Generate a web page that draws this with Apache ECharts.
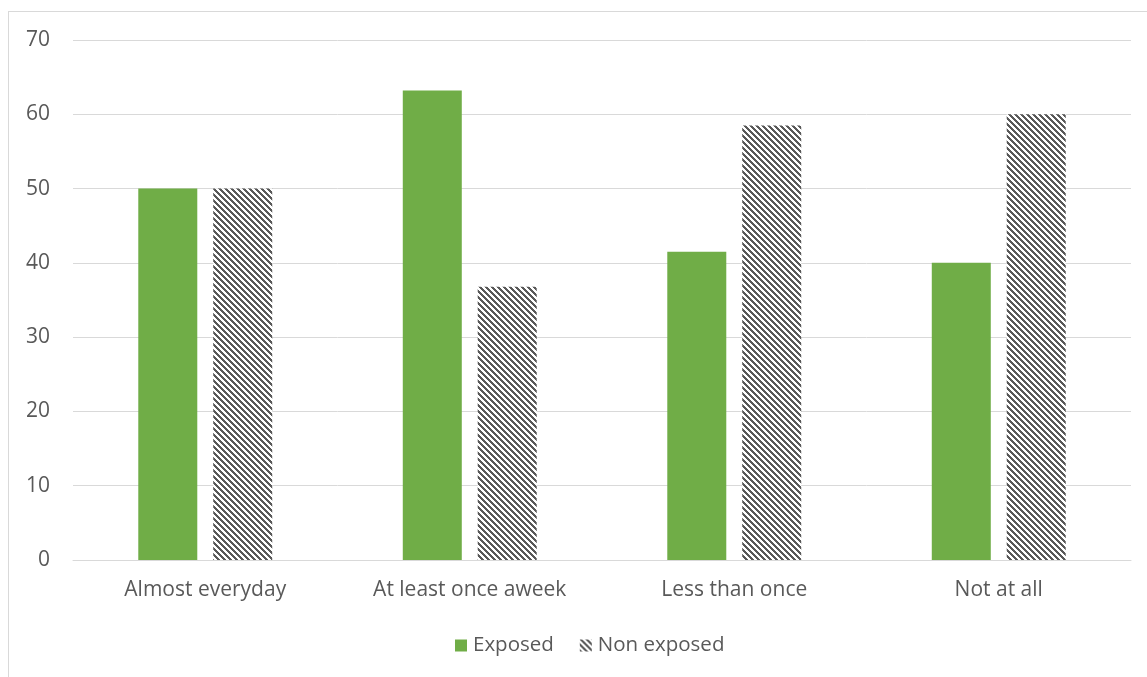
<!DOCTYPE html>
<html>
<head>
<meta charset="utf-8">
<script src="https://cdn.jsdelivr.net/npm/echarts@6/dist/echarts.min.js"></script>
<style>
  html, body { margin: 0; padding: 0; background: #ffffff; }
  #frame { position: absolute; left: 8px; top: 11px; width: 1160px; height: 700px; border: 1px solid #d9d9d9; box-sizing: border-box; }
  #chart { position: absolute; left: 0; top: 0; width: 1147px; height: 677px; }
</style>
</head>
<body>
<div id="frame"></div>
<div id="chart"></div>
<script>
const categories = ['Almost everyday', 'At least once aweek', 'Less than once', 'Not at all'];
const exposed = [50, 63.2, 41.5, 40];
const nonExposed = [50, 36.8, 58.5, 60];
const yTicks = [0, 10, 20, 30, 40, 50, 60, 70];

// diagonal hatch tile for the "Non exposed" series
function hatchTile() {
  const n = 6;
  const c = document.createElement('canvas');
  c.width = n; c.height = n;
  const ctx = c.getContext('2d');
  ctx.fillStyle = '#ffffff';
  ctx.fillRect(0, 0, n, n);
  ctx.fillStyle = '#595959';
  for (let y = 0; y < n; y++) {
    for (let x = 0; x < n; x++) {
      const d = ((x - y) % n + n) % n;
      if (d < 3) ctx.fillRect(x, y, 1, 1);
    }
  }
  return c;
}
const hatch = { image: hatchTile(), repeat: 'repeat' };

const chart = echarts.init(document.getElementById('chart'), null, { renderer: 'canvas' });
const font = '"Open Sans", "Liberation Sans", sans-serif';
chart.setOption({
  animation: false,
  textStyle: { fontFamily: font },
  grid: { left: 73, right: 16, top: 40, bottom: 117, containLabel: false },
  legend: {
    top: 630,
    left: 450,
    itemWidth: 12,
    itemHeight: 12,
    itemGap: 26,
    textStyle: { color: '#595959', fontSize: 20.5, fontFamily: font, padding: [0, 0, 0, 1] },
    data: [
      { name: 'Exposed', icon: 'rect' },
      { name: 'Non exposed', icon: 'rect' }
    ]
  },
  xAxis: {
    type: 'category',
    data: categories,
    axisLine: { lineStyle: { color: '#d9d9d9' } },
    axisTick: { show: false },
    axisLabel: { color: '#595959', fontSize: 21, margin: 20, fontFamily: font }
  },
  yAxis: {
    type: 'value',
    min: yTicks[0],
    max: yTicks[yTicks.length - 1],
    interval: 10,
    axisLine: { show: false },
    axisTick: { show: false },
    axisLabel: { color: '#595959', fontSize: 21, margin: 23, fontFamily: font },
    splitLine: { lineStyle: { color: '#d9d9d9' } }
  },
  series: [
    {
      name: 'Exposed',
      type: 'bar',
      data: exposed,
      barWidth: 59,
      barGap: '27%',
      itemStyle: { color: '#70ad47' }
    },
    {
      name: 'Non exposed',
      type: 'bar',
      data: nonExposed,
      barWidth: 59,
      itemStyle: { color: hatch }
    }
  ]
});
</script>
</body>
</html>
